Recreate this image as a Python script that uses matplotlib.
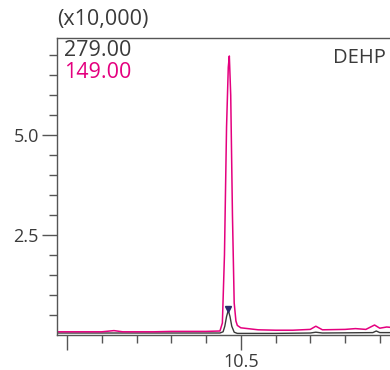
import matplotlib
matplotlib.use('Agg')
import matplotlib.pyplot as plt

# retention time (min) and intensity (x10,000)
t_149 = [9.97, 10.10, 10.135, 10.16, 10.25, 10.30, 10.40, 10.44, 10.447, 10.453, 10.459,
         10.464, 10.467, 10.471, 10.476, 10.481, 10.486, 10.49, 10.50, 10.55, 10.60,
         10.65, 10.70, 10.716, 10.735, 10.80, 10.83, 10.86, 10.885, 10.90, 10.92, 10.944]
i_149 = [0.08, 0.08, 0.11, 0.08, 0.08, 0.09, 0.09, 0.10, 0.30, 2.00, 5.20,
         6.70, 6.98, 6.00, 3.00, 0.80, 0.35, 0.24, 0.18, 0.13, 0.12,
         0.12, 0.14, 0.22, 0.13, 0.14, 0.16, 0.14, 0.25, 0.17, 0.20, 0.18]

t_279 = [9.97, 10.30, 10.44, 10.449, 10.454, 10.459, 10.464, 10.469, 10.474, 10.481,
         10.49, 10.60, 10.70, 10.716, 10.735, 10.88, 10.89, 10.90, 10.944]
i_279 = [0.05, 0.05, 0.05, 0.08, 0.22, 0.46, 0.62, 0.46, 0.22, 0.07,
         0.04, 0.04, 0.05, 0.07, 0.05, 0.06, 0.10, 0.06, 0.06]

peak_t = 10.464
peak_i = 0.65

ink = '#3a3a3a'
pink = '#e4007f'

plt.rcParams['font.family'] = ['Open Sans', 'DejaVu Sans']

fig = plt.figure(figsize=(3.9, 3.7), dpi=100)
ax = fig.add_axes([57/390, 35/370, 345/390, 297/370])

ax.plot(t_279, i_279, color=ink, lw=1.0)
ax.plot(t_149, i_149, color=pink, lw=1.1)
ax.plot([peak_t], [peak_i], marker='v', color='#2a2a6a', ms=4, ls='none')

ax.set_xlim(9.971, 10.944 + 0.02)
ax.set_ylim(0, 7.43)

ax.set_xticks([10.0, 10.5])
ax.set_xticklabels(['', '10.5'])
ax.set_xticks([10.1, 10.2, 10.3, 10.4, 10.6, 10.7, 10.8, 10.9], minor=True)
ax.set_yticks([2.5, 5.0])
ax.set_yticks([0.5, 1.0, 1.5, 2.0, 3.0, 3.5, 4.0, 4.5, 5.5, 6.0, 6.5, 7.0], minor=True)

ax.tick_params(which='major', length=11, width=1, color='#555555', labelsize=13, labelcolor=ink, pad=2)
ax.tick_params(which='minor', length=6, width=1, color='#555555')

for s in ['left', 'bottom', 'top']:
    ax.spines[s].set_color('#555555')
    ax.spines[s].set_linewidth(1.0)
ax.spines['right'].set_visible(False)

fig.text(57/390, 1 - 19/370, '(x10,000)', fontsize=15.5, color=ink, va='center', ha='left')
fig.text(64/390, 1 - 50/370, '279.00', fontsize=15.5, color=ink, va='center', ha='left')
fig.text(64/390, 1 - 72/370, '149.00', fontsize=15.5, color=pink, va='center', ha='left')
fig.text(333/390, 1 - 58/370, 'DEHP', fontsize=14.5, color=ink, va='center', ha='left')

fig.savefig('out.png', dpi=100)
